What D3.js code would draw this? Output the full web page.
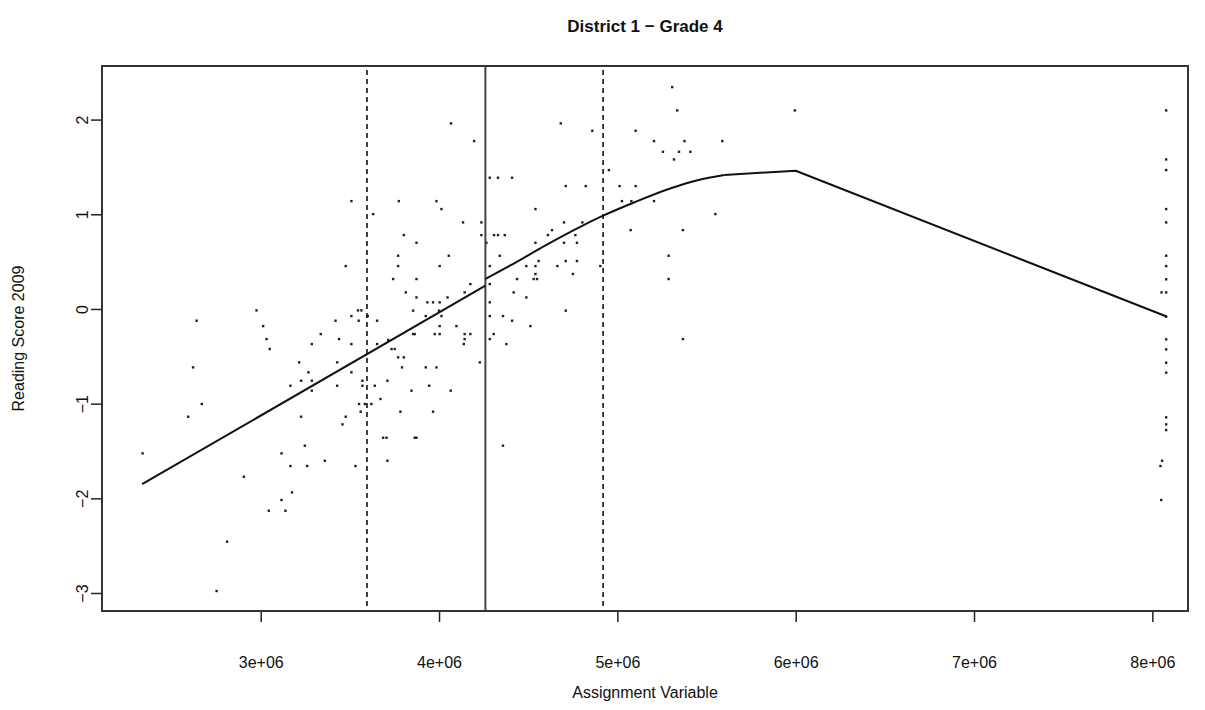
<!DOCTYPE html>
<html>
<head>
<meta charset="utf-8">
<script src="https://cdn.jsdelivr.net/npm/d3@7"></script>
<style>
  html, body { margin: 0; padding: 0; background: #fff; }
  svg { display: block; }
  text { font-family: "Liberation Sans", Arial, Helvetica, sans-serif; fill: #111; }
</style>
</head>
<body>
<svg id="chart" width="1205" height="710"></svg>
<script>
// ---------- data (x in units of 1e6) ----------
const title = "District 1 \u2212 Grade 4";
const xLabel = "Assignment Variable";
const yLabel = "Reading Score 2009";

const xTicks = [3, 4, 5, 6, 7, 8];
const xTickLabels = ["3e+06", "4e+06", "5e+06", "6e+06", "7e+06", "8e+06"];
const yTicks = [-3, -2, -1, 0, 1, 2];
const yTickLabels = ["\u22123", "\u22122", "\u22121", "0", "1", "2"];

const cutoff = 4.26;
const bandLines = [3.596, 4.92];

const pointX = [
  3.508, 3.63,
  3.476, 2.976, 3.564, 3.545, 2.64, 3.419, 3.508, 3.549, 3.60, 3.652, 3.013, 3.032, 3.336, 3.439,
  3.05, 3.286, 3.508, 3.652, 3.215, 3.428, 2.62, 3.267, 3.508, 3.226, 3.286, 3.57, 3.71, 3.166,
  3.428, 3.57, 3.639, 3.286, 3.671, 2.669, 3.551, 3.583, 3.62, 3.56, 2.593, 3.226, 3.476, 3.458,
  3.686, 3.705,
  2.337, 3.116, 3.247, 3.166, 3.26, 3.359, 3.531, 3.71, 2.905, 3.175, 3.116, 3.045, 3.138, 2.811, 2.752,
  4.067, 4.196, 4.682, 4.859, 5.307, 5.335, 5.102, 5.205, 5.255, 5.317, 5.345, 4.952, 4.284, 4.33,
  4.409, 3.774, 3.985, 4.013, 4.54, 4.71, 4.822, 5.012, 5.102, 5.025, 5.078, 5.205, 4.134, 4.237,
  4.70, 4.803, 3.802, 4.237, 4.308, 4.33, 4.368, 4.633, 4.61, 4.764, 5.074, 3.873, 4.265, 4.54,
  4.70, 4.773,
  3.77, 4.054, 4.34, 5.287, 3.77, 4.003, 4.284, 4.489, 4.54, 4.558, 4.663, 4.71, 4.773, 4.904,
  4.75, 4.54, 4.53, 4.549, 5.287, 3.742, 3.873, 4.437, 4.175, 4.284, 3.813, 4.143, 4.418, 3.873,
  4.047, 4.489, 3.934, 3.966, 4.003, 4.284, 3.854, 3.999, 4.71, 3.925, 4.013, 4.284, 4.358, 4.097,
  4.003, 4.409, 4.512, 3.854, 3.863, 3.975, 4.003, 4.143, 4.175, 4.306, 4.143, 4.284, 3.714, 4.138,
  4.377, 3.733, 3.751, 3.77, 3.802, 4.228, 3.792, 3.925, 3.985, 3.944, 3.845, 4.065, 3.783, 3.966,
  3.863, 3.873,
  4.358,
  5.995, 5.376, 5.588, 5.409, 5.549, 5.367, 5.367,
  8.077, 8.077, 8.077, 8.077, 8.077, 8.077, 8.077, 8.077, 8.077, 8.077, 8.077, 8.077, 8.077, 8.077,
  8.077, 8.077, 8.077, 8.051, 8.054, 8.045, 8.049
];
const pointY = [
  1.14, 1.003,
  0.454, -0.014, -0.014, -0.014, -0.123, -0.123, -0.074, -0.123, -0.074, -0.123, -0.18, -0.317, -0.264, -0.317,
  -0.422, -0.37, -0.37, -0.37, -0.563, -0.563, -0.616, -0.668, -0.668, -0.757, -0.757, -0.757, -0.757, -0.81,
  -0.81, -0.81, -0.81, -0.862, -0.95, -1.003, -1.003, -1.003, -1.003, -1.084, -1.137, -1.137, -1.137, -1.218,
  -1.359, -1.359,
  -1.524, -1.524, -1.443, -1.658, -1.658, -1.602, -1.658, -1.602, -1.771, -1.936, -2.017, -2.13, -2.13, -2.457, -2.978,
  1.961, 1.774, 1.961, 1.883, 2.344, 2.098, 1.883, 1.774, 1.661, 1.58, 1.661, 1.468, 1.387, 1.387,
  1.387, 1.14, 1.14, 1.056, 1.056, 1.299, 1.299, 1.299, 1.299, 1.14, 1.14, 1.14, 0.915, 0.915,
  0.915, 0.915, 0.781, 0.781, 0.781, 0.781, 0.781, 0.834, 0.781, 0.781, 0.834, 0.70, 0.70, 0.70,
  0.70, 0.70,
  0.563, 0.563, 0.563, 0.563, 0.454, 0.454, 0.454, 0.454, 0.454, 0.507, 0.454, 0.507, 0.507, 0.454,
  0.37, 0.37, 0.317, 0.317, 0.317, 0.317, 0.317, 0.317, 0.264, 0.264, 0.176, 0.176, 0.176, 0.123,
  0.123, 0.123, 0.071, 0.071, 0.071, 0.071, -0.017, -0.017, -0.017, -0.074, -0.074, -0.074, -0.074, -0.18,
  -0.18, -0.123, -0.18, -0.264, -0.264, -0.264, -0.264, -0.264, -0.264, -0.264, -0.317, -0.317, -0.327, -0.37,
  -0.37, -0.422, -0.422, -0.51, -0.51, -0.563, -0.616, -0.616, -0.616, -0.81, -0.862, -0.862, -1.084, -1.084,
  -1.359, -1.359,
  -1.443,
  2.098, 1.774, 1.774, 1.661, 1.003, 0.834, -0.317,
  2.098, 1.58, 1.468, 1.056, 0.915, 0.563, 0.454, 0.314, 0.176, -0.081, -0.32, -0.426, -0.567, -0.672,
  -1.144, -1.218, -1.278, 0.176, -1.602, -1.658, -2.017
];

// fitted curves: left of cutoff linear; right of cutoff a smooth part then straight segments
const fitLeftX = [2.335, 4.26];
const fitLeftY = [-1.851, 0.246];
const fitSmoothX = [4.26, 4.4, 4.6, 4.8, 4.92, 5.1, 5.3, 5.45, 5.6];
const fitSmoothY = [0.317, 0.46, 0.675, 0.875, 0.985, 1.13, 1.275, 1.36, 1.415];
const fitTailX = [5.6, 6.0, 8.08];
const fitTailY = [1.415, 1.46, -0.08];

// ---------- layout ----------
const svg = d3.select("#chart");
const L = 102, R = 1188, T = 66, B = 611;

const x = d3.scaleLinear().domain([2.11, 8.2]).range([L, R]);
const y = d3.scaleLinear().domain([-3.19, 2.566]).range([B, T]);

// title
svg.append("text").attr("x", (L + R) / 2).attr("y", 32)
  .attr("text-anchor", "middle").attr("font-size", 17).attr("font-weight", "bold")
  .text(title);

// axes
const xAxis = d3.axisBottom(x).tickValues(xTicks)
  .tickFormat((d, i) => xTickLabels[i]).tickSize(11);
const gx = svg.append("g").attr("transform", `translate(0,${B})`).call(xAxis);
gx.select(".domain").remove();
gx.selectAll(".tick line").attr("stroke", "#222").attr("stroke-width", 1.5);
gx.selectAll(".tick text").attr("font-size", 16).attr("fill", "#111").attr("dy", 0)
  .attr("y", 57);

const yAxis = d3.axisLeft(y).tickValues(yTicks)
  .tickFormat((d, i) => yTickLabels[i]).tickSize(11);
const gy = svg.append("g").attr("transform", `translate(${L},0)`).call(yAxis);
gy.select(".domain").remove();
gy.selectAll(".tick line").attr("stroke", "#222").attr("stroke-width", 1.5);
gy.selectAll(".tick text").attr("font-size", 16).attr("fill", "#111")
  .attr("x", null).attr("dy", null).attr("text-anchor", "middle")
  .attr("transform", "translate(-14,0) rotate(-90)");

// axis titles
svg.append("text").attr("x", (L + R) / 2).attr("y", 698)
  .attr("text-anchor", "middle").attr("font-size", 16).text(xLabel);
svg.append("text").attr("transform", `translate(24,${(T + B) / 2}) rotate(-90)`)
  .attr("text-anchor", "middle").attr("font-size", 16).text(yLabel);

// points
svg.append("g").selectAll("rect").data(pointX.map((d, i) => [d, pointY[i]]))
  .join("rect")
  .attr("x", d => x(d[0]) - 1.1).attr("y", d => y(d[1]) - 1.1)
  .attr("width", 2.4).attr("height", 2.4).attr("fill", "#222");

// vertical lines
svg.append("line").attr("x1", x(cutoff)).attr("x2", x(cutoff))
  .attr("y1", T).attr("y2", B).attr("stroke", "#444").attr("stroke-width", 2);
svg.append("g").selectAll("line").data(bandLines).join("line")
  .attr("x1", d => x(d)).attr("x2", d => x(d)).attr("y1", T + 4).attr("y2", B)
  .attr("stroke", "#111").attr("stroke-width", 1.6).attr("stroke-dasharray", "5,4");

// fit lines
const line = d3.line().x(d => x(d[0])).y(d => y(d[1]));
svg.append("path").datum(fitLeftX.map((d, i) => [d, fitLeftY[i]]))
  .attr("d", line).attr("fill", "none").attr("stroke", "#111").attr("stroke-width", 2);
svg.append("path").datum(fitSmoothX.map((d, i) => [d, fitSmoothY[i]]))
  .attr("d", d3.line().x(d => x(d[0])).y(d => y(d[1])).curve(d3.curveMonotoneX))
  .attr("fill", "none").attr("stroke", "#111").attr("stroke-width", 2);
svg.append("path").datum(fitTailX.map((d, i) => [d, fitTailY[i]]))
  .attr("d", line).attr("fill", "none").attr("stroke", "#111").attr("stroke-width", 2)
  .attr("stroke-linejoin", "round");

// box
svg.append("rect").attr("x", L).attr("y", T).attr("width", R - L).attr("height", B - T)
  .attr("fill", "none").attr("stroke", "#333").attr("stroke-width", 2);
</script>
</body>
</html>
